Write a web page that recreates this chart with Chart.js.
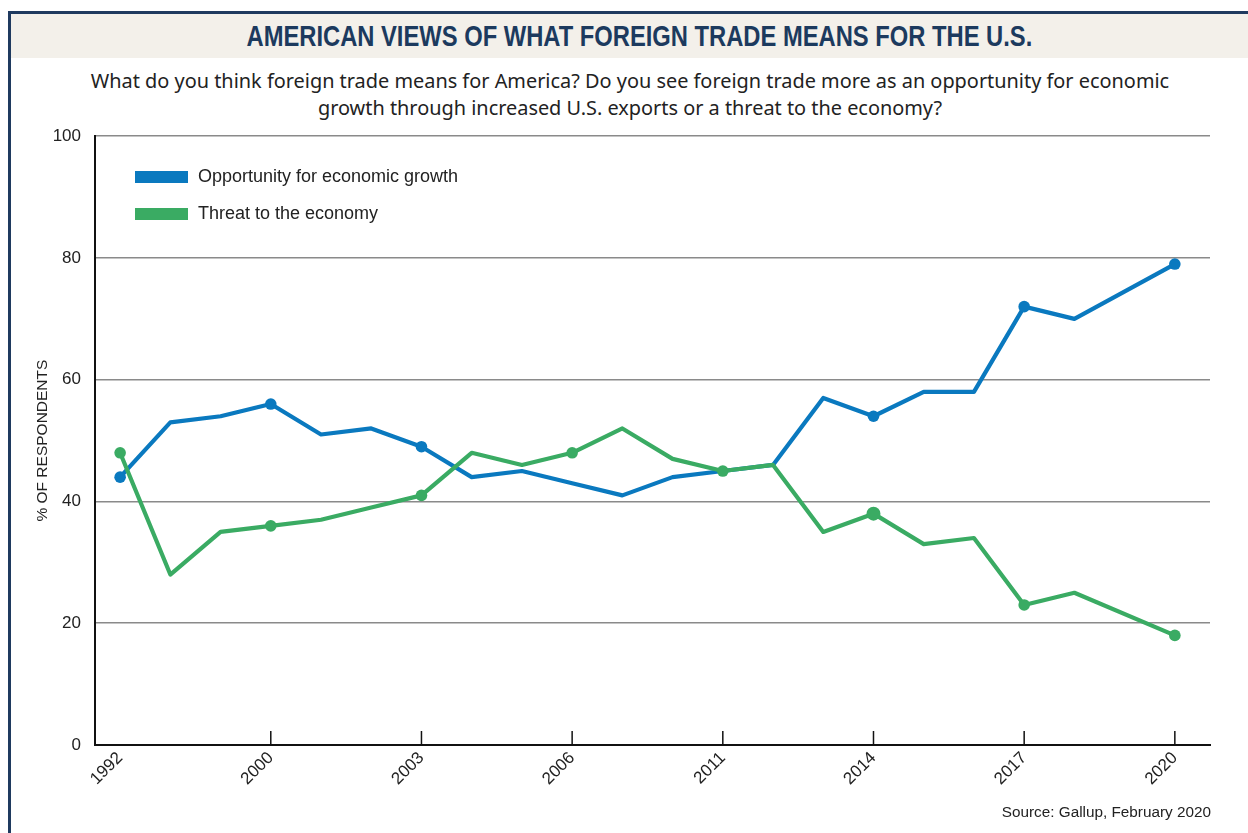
<!DOCTYPE html>
<html>
<head>
<meta charset="utf-8">
<script src="https://cdn.jsdelivr.net/npm/chart.js@4.4.0/dist/chart.umd.min.js"></script>
<style>
  html, body { margin:0; padding:0; background:#fff; }
  body { width:1248px; height:833px; position:relative; overflow:hidden; font-family:"Liberation Sans", Arial, sans-serif; }
  #frame { position:absolute; left:8px; top:11px; width:1260px; height:840px; border-left:3px solid #1f3a5f; border-top:3px solid #1f3a5f; box-sizing:border-box; }
  #band { position:absolute; left:11px; top:14px; width:1237px; height:44px; background:#f3f0ea; }
  #titleWrap { position:absolute; left:0; width:1278px; top:19px; text-align:center; }
  #title { display:inline-block; transform-origin:center center; font-family:"Liberation Sans", Arial, sans-serif; font-weight:bold; font-size:30px; line-height:34px; color:#1c3a5e; white-space:nowrap; }
  #subtitle { position:absolute; left:0; width:1260px; top:67px; text-align:center; font-family:"Noto Sans", "Liberation Sans", sans-serif; font-size:19.9px; line-height:27px; color:#222; }
  #source { position:absolute; right:37px; top:803px; font-size:15.3px; color:#222; }
  #wrap { position:absolute; left:0; top:112px; width:1248px; height:721px; }
  .leg { position:absolute; left:135px; font-size:18px; color:#222; white-space:nowrap; }
  .leg span.sw { position:absolute; left:0; width:53px; height:12px; }
  .leg span.tx { position:absolute; left:63px; top:-5px; }
</style>
</head>
<body>
<div id="frame"></div>
<div id="band"></div>
<div id="titleWrap"><span id="title">AMERICAN VIEWS OF WHAT FOREIGN TRADE MEANS FOR THE U.S.</span></div>
<div id="subtitle">What do you think foreign trade means for America? Do you see foreign trade more as an opportunity for economic<br>growth through increased U.S. exports or a threat to the economy?</div>
<div id="wrap"><canvas id="c"></canvas></div>
<div id="legend"></div>
<div id="source">Source: Gallup, February 2020</div>
<script>
// ---- data ----
const tickLabels = ['1992', '2000', '2003', '2006', '2011', '2014', '2017', '2020'];
const seriesNames = ['Opportunity for economic growth', 'Threat to the economy'];
const opportunity = [44, 53, 54, 56, 51, 52, 49, 44, 45, 43, 41, 44, 45, 46, 57, 54, 58, 58, 72, 70, null, 79];
const threat      = [48, 28, 35, 36, 37, 39, 41, 48, 46, 48, 52, 47, 45, 46, 35, 38, 33, 34, 23, 25, null, 18];
const yTicks = [0, 20, 40, 60, 80, 100];

// ---- styling (separate from data) ----
const BLUE = '#0a79bf', GREEN = '#3aab63';
const tickStep = 3;
const blueMarked = [0, 3, 6, 15, 18, 21];
const greenMarked = [0, 3, 6, 9, 12, 15, 18, 21];
const greenBig = [15];

// condense title to its reference width
(function () {
  const t = document.getElementById('title');
  const s = 786 / t.offsetWidth;
  t.style.transform = 'scaleX(' + s + ')';
})();

function pts(arr) { return arr.map((v, i) => ({ x: i, y: v })).filter(p => p.y !== null); }
function radii(arr, marked, big) {
  return pts(arr).map(p => big && big.includes(p.x) ? 7 : (marked.includes(p.x) ? 5.8 : 0));
}

const FONT = '"Liberation Sans", Arial, sans-serif';

const xTickMarks = {
  id: 'xTickMarks',
  afterDatasetsDraw(chart) {
    const ctx = chart.ctx, xs = chart.scales.x, bottom = chart.chartArea.bottom;
    ctx.save();
    ctx.strokeStyle = '#111'; ctx.lineWidth = 1.5;
    tickLabels.forEach((t, k) => {
      if (k === 0) return;
      const px = xs.getPixelForValue(k * tickStep);
      ctx.beginPath(); ctx.moveTo(px, bottom); ctx.lineTo(px, bottom - 14); ctx.stroke();
    });
    ctx.restore();
  }
};

new Chart(document.getElementById('c'), {
  type: 'line',
  data: {
    datasets: [
      { label: seriesNames[0], data: pts(opportunity), borderColor: BLUE, backgroundColor: BLUE,
        borderWidth: 4.2, pointRadius: radii(opportunity, blueMarked), pointBorderWidth: 0,
        pointBackgroundColor: BLUE, tension: 0, spanGaps: true, borderJoinStyle: 'round', order: 1 },
      { label: seriesNames[1], data: pts(threat), borderColor: GREEN, backgroundColor: GREEN,
        borderWidth: 4.2, pointRadius: radii(threat, greenMarked, greenBig), pointBorderWidth: 0,
        pointBackgroundColor: GREEN, tension: 0, spanGaps: true, borderJoinStyle: 'round', order: 0 }
    ]
  },
  options: {
    responsive: true, maintainAspectRatio: false, animation: false,
    layout: { padding: { top: 0, right: 38, bottom: 0, left: 0 } },
    plugins: { legend: { display: false }, tooltip: { enabled: false } },
    scales: {
      x: {
        type: 'linear', min: -0.5, max: 21.7,
        afterFit(s) { s.height = 88; },
        afterBuildTicks(s) { s.ticks = tickLabels.map((t, k) => ({ value: k * tickStep })); },
        grid: { display: true, drawOnChartArea: false, drawTicks: false, color: 'rgba(0,0,0,0)' },
        border: { display: true, color: '#111', width: 2 },
        ticks: {
          autoSkip: false, maxRotation: 45, minRotation: 45, padding: 3,
          color: '#222', font: { family: FONT, size: 17 },
          callback(v) { const k = Math.round(v / tickStep); return tickLabels[k] || ''; }
        }
      },
      y: {
        min: 0, max: 100,
        afterFit(s) { s.width = 95; },
        afterBuildTicks(s) { s.ticks = yTicks.map(v => ({ value: v })); },
        grid: { color: '#8a8a8a', lineWidth: 1.5, drawTicks: false },
        border: { display: true, color: '#111', width: 2 },
        ticks: { padding: 14, color: '#222', font: { family: FONT, size: 17 } },
        title: { display: true, text: '% OF RESPONDENTS', color: '#222',
                 font: { family: FONT, size: 15.5 }, padding: { top: 33, bottom: 0 } }
      }
    }
  },
  plugins: [xTickMarks]
});

// HTML legend built from dataset names/colours
const legend = document.getElementById('legend');
[[seriesNames[0], BLUE, 171], [seriesNames[1], GREEN, 208]].forEach(([name, col, top]) => {
  const d = document.createElement('div');
  d.className = 'leg'; d.style.top = top + 'px';
  d.innerHTML = '<span class="sw" style="background:' + col + '"></span><span class="tx">' + name + '</span>';
  legend.appendChild(d);
});
</script>
</body>
</html>
